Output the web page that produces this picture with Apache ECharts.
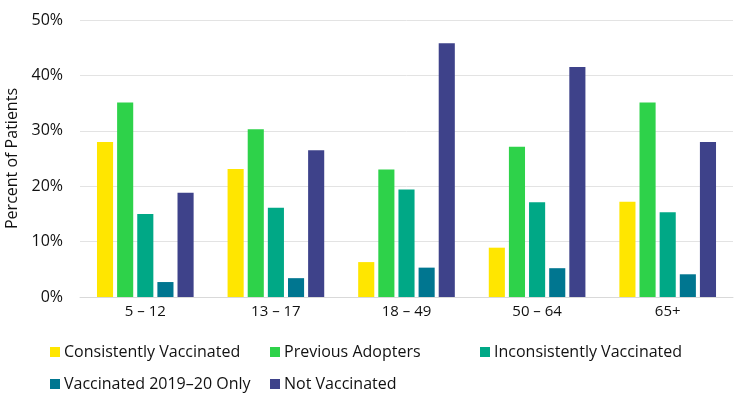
<!DOCTYPE html>
<html lang="en">
<head>
  <meta charset="UTF-8">
  <title>Percent of Patients by Age Group</title>
  <style>
    html, body { margin: 0; padding: 0; background: #fff; }
    #main { width: 743px; height: 409px; }
  </style>
</head>
<body>
<div id="main"></div>
<script src="https://cdn.jsdelivr.net/npm/echarts@6/dist/echarts.min.js"></script>
<script>
  // age groups on the x axis
  var ageGroups = ['5 \u2013 12', '13 \u2013 17', '18 \u2013 49', '50 \u2013 64', '65+'];
  var seriesNames = ['Consistently Vaccinated', 'Previous Adopters', 'Inconsistently Vaccinated',
    'Vaccinated 2019\u201320 Only', 'Not Vaccinated'];
  var colors = ['#FFE600', '#2ED24A', '#00A886', '#007690', '#3E428A'];

  // percent of patients
  var consistent = [28.0, 23.1, 6.3, 8.9, 17.2];
  var previous = [35.1, 30.3, 23.0, 27.1, 35.1];
  var inconsistent = [15.0, 16.1, 19.4, 17.1, 15.3];
  var only2019 = [2.7, 3.4, 5.3, 5.2, 4.1];
  var notVacc = [18.8, 26.5, 45.8, 41.5, 28.0];
  var allValues = [consistent, previous, inconsistent, only2019, notVacc];

  var font = '"Open Sans", "Noto Sans", sans-serif';

  // legend laid out like the excel grid: 3 columns, 2 rows
  var legendPos = [[50, 344], [270, 344], [480, 344], [50, 376], [270, 376]];
  var legends = [];
  for (var i = 0; i < seriesNames.length; i++) {
    legends.push({
      data: [seriesNames[i]],
      left: legendPos[i][0],
      top: legendPos[i][1],
      padding: 0,
      icon: 'rect',
      itemWidth: 10,
      itemHeight: 10,
      itemGap: 5,
      selectedMode: false,
      textStyle: { fontFamily: font, fontSize: 16, color: '#111', padding: [0, 0, 0, -1] }
    });
  }

  var series = [];
  for (var j = 0; j < seriesNames.length; j++) {
    series.push({
      name: seriesNames[j],
      type: 'bar',
      data: allValues[j],
      barGap: '25%',
      barCategoryGap: '26%',
      itemStyle: { color: colors[j] }
    });
  }

  var myChart = echarts.init(document.getElementById('main'));
  myChart.setOption({
    animation: false,
    grid: { left: 80, right: 10, top: 20, bottom: 112, containLabel: false, outerBoundsMode: 'none' },
    legend: legends,
    xAxis: {
      type: 'category',
      data: ageGroups,
      axisLine: { lineStyle: { color: '#d9d9d9', width: 1 } },
      axisTick: { show: false },
      axisLabel: { fontFamily: font, fontSize: 15, color: '#111', margin: 7 }
    },
    yAxis: {
      type: 'value',
      min: 0,
      max: 50,
      interval: 10,
      name: 'Percent of Patients',
      nameLocation: 'middle',
      nameGap: 60,
      nameTextStyle: { fontFamily: font, fontSize: 16, color: '#111' },
      axisLine: { show: false },
      axisTick: { show: false },
      axisLabel: { fontFamily: font, fontSize: 16, color: '#111', margin: 17, formatter: '{value}%' },
      splitLine: { lineStyle: { color: '#e3e3e3', width: 1 } }
    },
    series: series
  });
</script>
</body>
</html>
